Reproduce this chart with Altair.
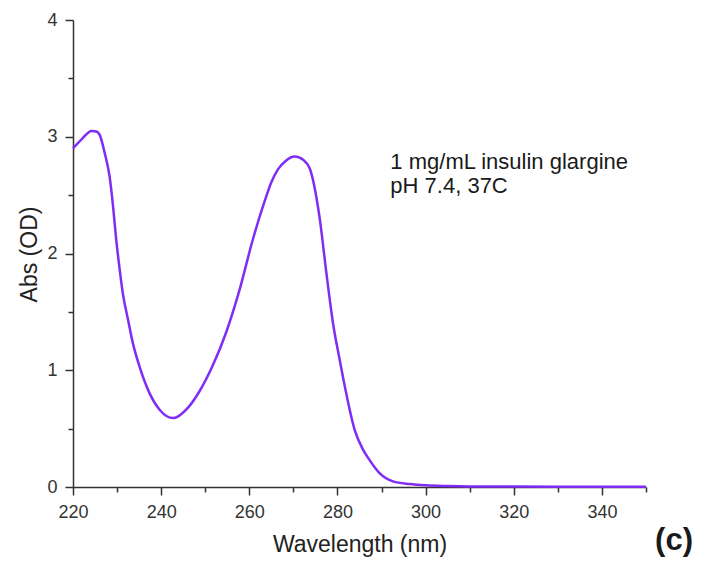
import altair as alt
import pandas as pd

# Spectrum
wavelength = [220, 222, 224.2, 225.3, 226.05, 227.2, 228.3, 229.1, 229.8, 230.6, 231.3, 232.5,
              233.6, 235.1, 237.4, 239.7, 242.7, 246.1, 248.7, 251.7, 254.8, 257.8,
              260.8, 263.5, 265.0, 266.5, 268.3, 270.3, 272.3, 273.7, 275.9, 277.5, 279.0,
              280.5, 282.0, 283.9, 285.8, 287.3, 289.5, 292.6, 296.4, 300, 305, 310,
              320, 330, 340, 350]
absorbance = [2.90, 2.98, 3.05, 3.045, 3.016, 2.86, 2.66, 2.40, 2.12, 1.86, 1.66, 1.43,
              1.23, 1.03, 0.80, 0.66, 0.59, 0.68, 0.82, 1.04, 1.33, 1.69,
              2.12, 2.45, 2.61, 2.72, 2.795, 2.83, 2.80, 2.73, 2.32, 1.83, 1.40,
              1.09, 0.80, 0.49, 0.32, 0.23, 0.12, 0.048, 0.025, 0.014, 0.008, 0.005,
              0.004, 0.003, 0.003, 0.003]

x_ticks = [220, 230, 240, 250, 260, 270, 280, 290, 300, 310, 320, 330, 340, 350]
y_ticks = [0, 0.5, 1, 1.5, 2, 2.5, 3, 3.5, 4]

note_lines = ["1 mg/mL insulin glargine", "pH 7.4, 37C"]
note_x = [292.0, 292.0]
note_y = [2.725, 2.517]

panel_label = ["(c)"]

FONT = "Liberation Sans"
LINE_COLOR = "#7f2cf5"

spec = pd.DataFrame({"wl": wavelength, "abs": absorbance})
notes = pd.DataFrame({"x": note_x, "y": note_y, "t": note_lines})
panel = pd.DataFrame({"t": panel_label})

x_scale = alt.Scale(domain=[220, 350], nice=False, zero=False)
y_scale = alt.Scale(domain=[0, 4], nice=False)

x_axis = alt.Axis(
    title="Wavelength (nm)", values=x_ticks,
    labelExpr="datum.value % 20 === 0 && datum.value < 350 ? format(datum.value, 'd') : ''",
    tickSize={"condition": {"test": "datum.value % 20 === 0", "value": 8}, "value": 5},
    grid=False, labelPadding=8, labelFontSize=18, labelFont=FONT, labelColor="#333333",
    titleFont=FONT, titleFontSize=23, titleFontWeight="normal", titleColor="#222222",
    titleBaseline="alphabetic", titleY=64, domainColor="#333333", domainWidth=1.5,
    tickColor="#333333", tickWidth=1.5, labelFlush=False,
)
y_axis = alt.Axis(
    title="Abs (OD)", values=y_ticks,
    labelExpr="datum.value % 1 === 0 ? format(datum.value, 'd') : ''",
    tickSize={"condition": {"test": "datum.value % 1 === 0", "value": 8}, "value": 5},
    grid=False, labelPadding=8, labelFontSize=18, labelFont=FONT, labelColor="#333333",
    titleFont=FONT, titleFontSize=23, titleFontWeight="normal", titleColor="#222222",
    titleBaseline="alphabetic", titleX=-37, titleY=234, titleAngle=-90,
    domainColor="#333333", domainWidth=1.5, tickColor="#333333", tickWidth=1.5,
    labelFlush=False,
)

line = alt.Chart(spec).mark_line(color=LINE_COLOR, strokeWidth=2.5, interpolate="monotone").encode(
    x=alt.X("wl:Q", scale=x_scale, axis=x_axis),
    y=alt.Y("abs:Q", scale=y_scale, axis=y_axis),
)

note = alt.Chart(notes).mark_text(
    align="left", baseline="alphabetic", font=FONT, fontSize=22, color="#1a1a1a"
).encode(
    x=alt.X("x:Q", scale=x_scale),
    y=alt.Y("y:Q", scale=y_scale),
    text="t:N",
)

plabel = alt.Chart(panel).mark_text(
    align="right", baseline="alphabetic", font=FONT, fontSize=31, fontWeight="bold", color="#1a1a1a"
).encode(
    x=alt.value(620), y=alt.value(530), text="t:N"
)

chart = alt.layer(line, note, plabel).properties(
    width=573, height=467,
    background="white",
    autosize=alt.AutoSizeParams(type="none"),
    padding={"left": 65, "top": 12, "right": 49, "bottom": 70},
).configure_view(stroke=None, strokeWidth=0)

chart.save("out.html", embed_options={"renderer": "svg", "actions": False})
